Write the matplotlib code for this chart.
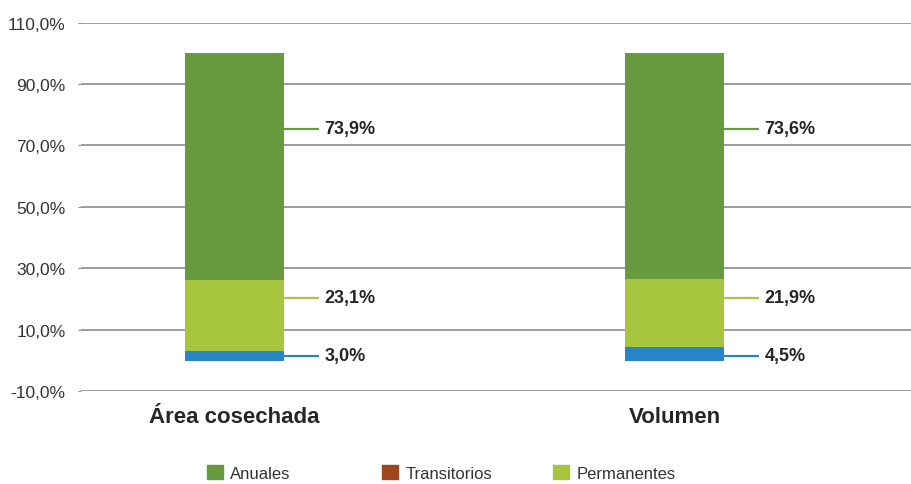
import matplotlib
matplotlib.use("Agg")
import matplotlib.pyplot as plt
from matplotlib.patches import Patch
from matplotlib import font_manager

# ---- data ----
categories = ["Área cosechada", "Volumen"]
transitorios = [3.0, 4.5]
permanentes = [23.1, 21.9]
anuales = [73.9, 73.6]
legend_names = ["Anuales", "Transitorios", "Permanentes"]
y_ticks = [-10, 10, 30, 50, 70, 90, 110]

# ---- style ----
names = {f.name for f in font_manager.fontManager.ttflist}
narrow = "Liberation Sans Narrow" if "Liberation Sans Narrow" in names else "Liberation Sans"
plt.rcParams["font.family"] = [narrow, "DejaVu Sans"]

c_anu = "#689A3F"
c_per = "#A8C540"
c_tra_bar = "#2784C7"
c_tra_leg = "#9E461E"
txt = "#262626"

fig = plt.figure(figsize=(9.12, 4.85), dpi=100)
ax = fig.add_axes([81 / 912, (485 - 392.3) / 485, 1 - 81 / 912, (392.3 - 23.5) / 485])

x = [0, 1]
w = 0.225
b1 = transitorios
b2 = [a + b for a, b in zip(transitorios, permanentes)]
ax.bar(x, transitorios, width=w, color=c_tra_bar, zorder=3)
ax.bar(x, permanentes, bottom=b1, width=w, color=c_per, zorder=3)
ax.bar(x, anuales, bottom=b2, width=w, color=c_anu, zorder=3)

# leader-line labels (fixed anchor heights per series)
label_heights = [1.5, 20.5, 75.5]
series = [(transitorios, c_tra_bar), (permanentes, c_per), (anuales, c_anu)]
for (vals, col), yh in zip(series, label_heights):
    for xi, v in zip(x, vals):
        x0 = xi + w / 2
        x1 = x0 + 0.08
        ax.plot([x0, x1], [yh, yh], color=col, lw=1.6, zorder=4, solid_capstyle="butt")
        ax.text(x1 + 0.012, yh, f"{v:.1f}%".replace(".", ","), ha="left", va="center",
                fontsize=13, fontweight="bold", color=txt)

ax.set_xlim(-0.349, 1.54)
ax.set_ylim(-10, 110)
ax.set_yticks(y_ticks)
ax.set_yticklabels([f"{t:.1f}%".replace(".", ",") for t in y_ticks], fontsize=12.5, color="#333333")
ax.yaxis.grid(True, color="#8c8c8c", lw=1.2, zorder=0)
ax.tick_params(axis="y", length=2, color="#8c8c8c", pad=9)
ax.set_xticks([])
for s in ax.spines.values():
    s.set_visible(False)

for xi, c in zip(x, categories):
    ax.text(xi, -18.2, c, ha="center", va="center", fontsize=16, fontweight="bold", color=txt)

# legend entries at Excel-like fixed slots
leg_colors = [c_anu, c_tra_leg, c_per]
leg_x = [207, 382, 553]
for name, col, lx in zip(legend_names, leg_colors, leg_x):
    fig.legend([Patch(color=col)], [name], loc="center left",
               bbox_to_anchor=(lx / 912, 11 / 485), frameon=False, fontsize=12,
               handlelength=0.95, handleheight=0.95, handletextpad=0.45,
               borderpad=0.0, borderaxespad=0.0, labelcolor="#333333")

fig.savefig("out.png", dpi=100)
